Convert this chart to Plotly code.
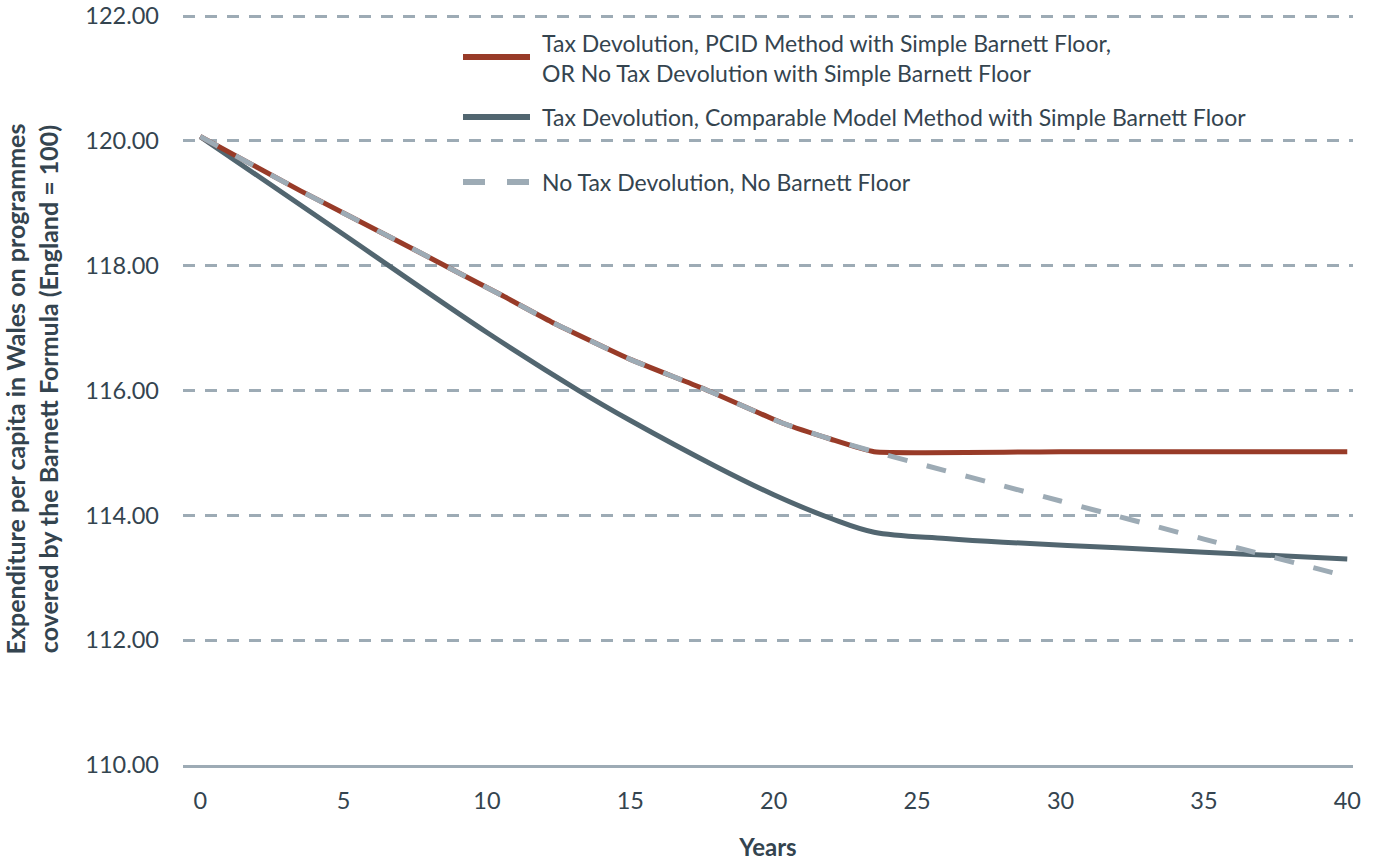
import plotly.graph_objects as go

# ---- data ----
years_floor = [0, 3.5, 7, 10.5, 12.25, 15, 17.5, 20.3, 22, 23.5, 30, 35, 40]
floor_pcid = [120.07, 119.2, 118.37, 117.53, 117.1, 116.5, 116.04, 115.48, 115.22, 115.02, 115.02, 115.02, 115.02]

years_comp = [0, 5, 10, 13.2, 15, 18, 20, 22, 23.5, 26, 28, 32, 35, 40]
comparable = [120.07, 118.5, 116.93, 116.0, 115.52, 114.78, 114.33, 113.95, 113.73, 113.63, 113.57, 113.48, 113.41, 113.3]

years_nofloor = [0, 3.5, 7, 10.5, 12.25, 15, 17.5, 20.3, 22, 23.5, 30, 35, 40]
no_floor = [120.07, 119.2, 118.37, 117.53, 117.1, 116.5, 116.04, 115.48, 115.22, 115.02, 114.23, 113.62, 113.02]

series_names = [
    "Tax Devolution, PCID Method with Simple Barnett Floor,<br>OR No Tax Devolution with Simple Barnett Floor",
    "Tax Devolution, Comparable Model Method with Simple Barnett Floor",
    "No Tax Devolution, No Barnett Floor",
]
x_ticks = [0, 5, 10, 15, 20, 25, 30, 35, 40]
y_ticks = [110, 112, 114, 116, 118, 120, 122]

RED = "#983b28"
DARK = "#526670"
LIGHT = "#9dabb5"
TEXT = "#34444f"
FONT = "Lato"

fig = go.Figure()
fig.add_trace(go.Scatter(x=years_comp, y=comparable, mode="lines", name=series_names[1],
                         line=dict(color=DARK, width=5, shape="spline", smoothing=1.0),
                         showlegend=False))
fig.add_trace(go.Scatter(x=years_floor, y=floor_pcid, mode="lines", name=series_names[0],
                         line=dict(color=RED, width=5, shape="spline", smoothing=0.4),
                         showlegend=False))
fig.add_trace(go.Scatter(x=years_nofloor, y=no_floor, mode="lines", name=series_names[2],
                         line=dict(color=LIGHT, width=5, dash="20px,20px", shape="spline", smoothing=0.4),
                         showlegend=False))

# ---- page geometry (body margin removed below) ----
W, H = 1378, 861
L, R, T, B = 183, 25, 13, 96
pw, ph = W - L - R, H - T - B


def px(xs):  # screen x -> paper
    return (xs - L) / pw


def py(ys):  # screen y -> paper
    return 1 - (ys - T) / ph


legend_items = [
    (series_names[0], RED, "solid", 57, 58),
    (series_names[1], DARK, "solid", 117, 117),
    (series_names[2], LIGHT, "22px,22px", 182, 182),
]
for name, col, dash, ysym, ytxt in legend_items:
    fig.add_shape(type="line", xref="paper", yref="paper",
                  x0=px(463), x1=px(530), y0=py(ysym), y1=py(ysym),
                  line=dict(color=col, width=6, dash=dash))
    fig.add_annotation(xref="paper", yref="paper", x=px(540), y=py(ytxt),
                       text=name, showarrow=False, xanchor="left", yanchor="middle",
                       align="left", font=dict(family=FONT, size=23, color=TEXT))

fig.update_layout(
    width=W, height=H,
    margin=dict(l=L, r=R, t=T, b=B),
    plot_bgcolor="white", paper_bgcolor="white",
    font=dict(family=FONT, color=TEXT),
    showlegend=False,
)
fig.update_xaxes(
    range=[-0.6, 40.2], tickvals=x_ticks, ticktext=[str(v) for v in x_ticks],
    showgrid=False, zeroline=False, showline=True, linecolor=LIGHT, linewidth=3,
    ticks="", ticklabelstandoff=13, automargin=False, ticklabeloverflow="allow",
    tickfont=dict(family=FONT, size=23.5, color=TEXT),
    title=dict(text="<b>Years</b>", font=dict(family=FONT, size=24, color=TEXT), standoff=27),
)
fig.update_yaxes(
    range=[110, 122.05], tickvals=y_ticks, ticktext=[f"{v:.2f}" for v in y_ticks],
    showgrid=True, gridcolor=LIGHT, gridwidth=3, griddash="12px,10px",
    zeroline=False, showline=False, ticks="", ticklabelstandoff=23, automargin=False,
    ticklabeloverflow="allow",
    tickfont=dict(family=FONT, size=23.5, color=TEXT),
    title=dict(text="<b>Expenditure per capita in Wales on programmes<br>covered by the Barnett Formula (England = 100)</b>",
               font=dict(family=FONT, size=25, color=TEXT), standoff=37),
)

fig.write_html("out.html", config={"displayModeBar": False})

# remove the default 8px body margin so the figure fills the window exactly
with open("out.html", "r", encoding="utf-8") as f:
    html = f.read()
html = html.replace("<head>", "<head><style>html,body{margin:0;padding:0;overflow:hidden;}</style>", 1)
with open("out.html", "w", encoding="utf-8") as f:
    f.write(html)
